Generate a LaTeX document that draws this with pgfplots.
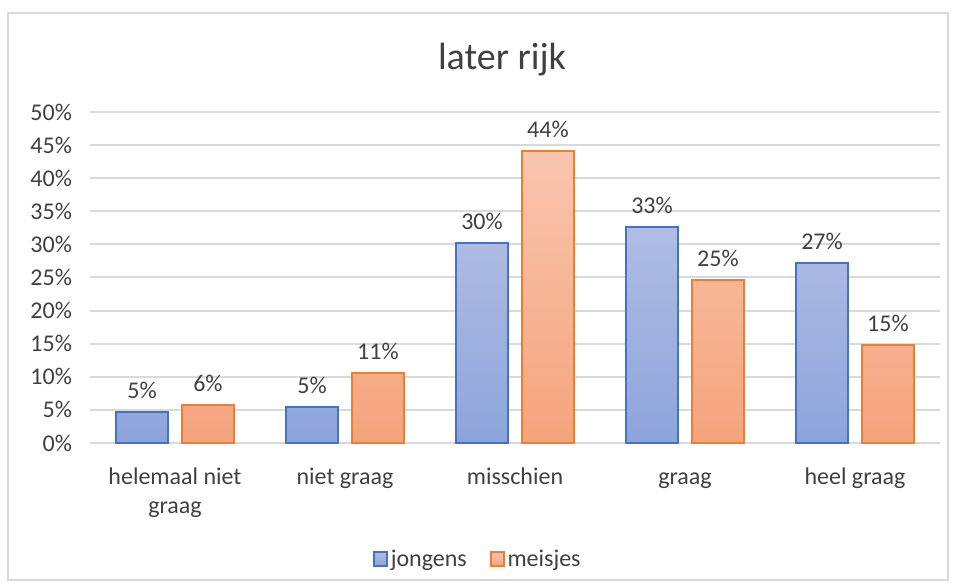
\documentclass[border=0pt]{standalone}
\usepackage{pgfplots}
\pgfplotsset{compat=1.18}
\usepackage{fontspec}
\setmainfont{Carlito}
\definecolor{txt}{HTML}{404040}
\definecolor{gridc}{HTML}{D9D9D9}
\definecolor{jblue}{HTML}{4472C4}
\definecolor{jbluetop}{HTML}{B0BDE3}
\definecolor{jbluebot}{HTML}{8DA4DB}
\definecolor{morange}{HTML}{ED7D31}
\definecolor{moratop}{HTML}{F9C5AE}
\definecolor{morabot}{HTML}{F4A47C}
\begin{document}
\begin{tikzpicture}
\path[use as bounding box] (0,0) rectangle (717pt,441pt);
\draw[gridc, line width=1.5pt] (6pt,6pt) rectangle (711pt,431.25pt);
\begin{axis}[
  at={(67.5pt,108.75pt)}, anchor=south west,
  scale only axis, width=637.5pt, height=248.25pt,
  xmin=-0.5, xmax=4.5, ymin=0, ymax=50,
  ytick={0,5,...,50},
  yticklabel={\pgfmathprintnumber{\tick}\%},
  /pgf/number format/assume math mode=true,
  axis line style={draw=none},
  major tick length=0pt,
  ymajorgrids, grid style={gridc, line width=1.5pt},
  xtick={0,1,2,3,4},
  xticklabels={{\strut helemaal niet\\graag},{\strut niet graag},{\strut misschien},{\strut graag},{\strut heel graag}},
  xticklabel style={align=center, text=txt, font=\fontsize{18}{21.75}\selectfont, yshift=-12pt},
  yticklabel style={text=txt, font=\fontsize{18}{21.75}\selectfont, xshift=-10pt},
  ybar, bar width=0.31,
  nodes near coords={\pgfmathprintnumber[fixed,precision=0]{\pgfplotspointmeta}\%},
  every node near coord/.append style={text=txt, font=\fontsize{18}{21.75}\selectfont, yshift=6pt},
  legend style={at={(0.4565,-0.350)}, anchor=center, draw=none, legend columns=2,
    font=\fontsize{18}{21.75}\selectfont, text=txt,
    /tikz/every even column/.append style={column sep=15pt}},
  legend image code/.code={\draw[#1, line width=1.5pt] (0pt,-5pt) rectangle (10pt,5pt);},
  clip=false,
]
\addplot[bar shift=-0.194, draw=jblue, line width=1.5pt, top color=jbluetop, bottom color=jbluebot]
  coordinates {(0,4.7) (1,5.4) (2,30.2) (3,32.6) (4,27.2)};
\addlegendentry{jongens}
\addplot[bar shift=0.194, draw=morange, line width=1.5pt, top color=moratop, bottom color=morabot]
  coordinates {(0,5.7) (1,10.6) (2,44.1) (3,24.6) (4,14.8)};
\addlegendentry{meisjes}
\end{axis}
\node[text=txt, font=\fontsize{28.5}{34}\selectfont] at (376.5pt,396pt) {later rijk};
\end{tikzpicture}
\end{document}
